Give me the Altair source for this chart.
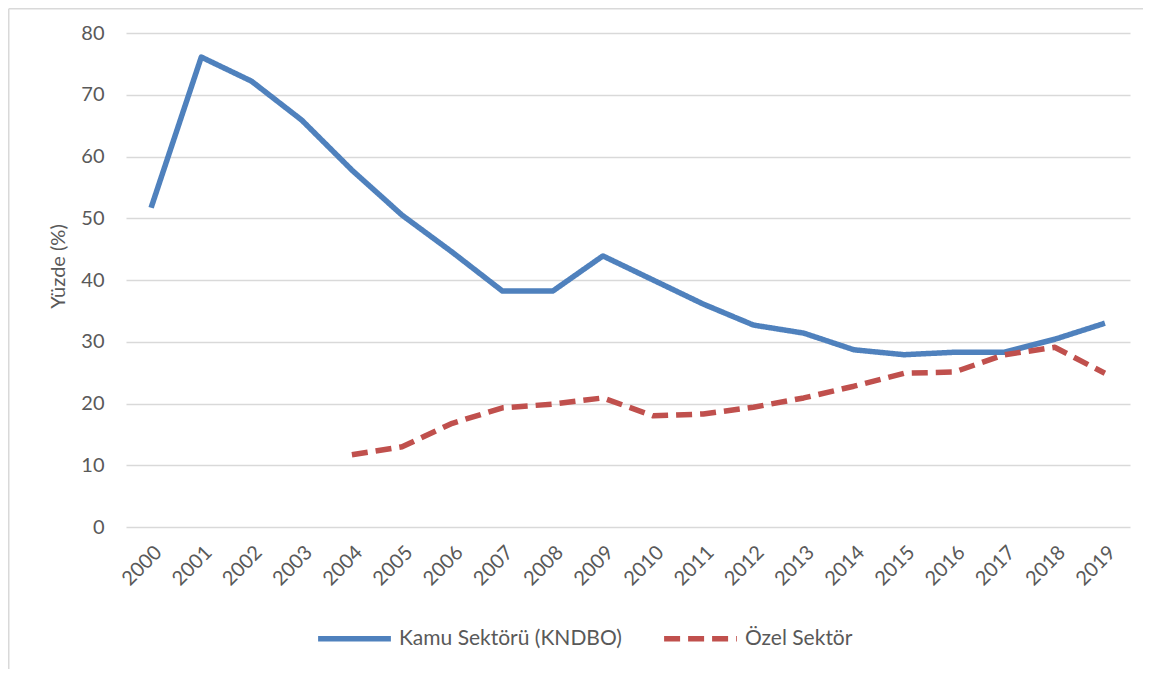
import altair as alt
import pandas as pd

years = [str(y) for y in range(2000, 2020)]
kamu = [51.7, 76.1, 72.2, 65.9, 57.8, 50.5, 44.5, 38.2, 38.2, 43.9,
        40.0, 36.1, 32.7, 31.4, 28.7, 27.9, 28.3, 28.3, 30.4, 33.0]
ozel_years = [str(y) for y in range(2004, 2020)]
ozel = [11.7, 13.0, 16.8, 19.3, 19.9, 20.9, 18.0, 18.3, 19.4, 20.9,
        22.8, 24.9, 25.1, 27.9, 29.1, 24.9]
series = ["Kamu Sektörü (KNDBO)", "Özel Sektör"]
colors = ["#4F81BD", "#C0504D"]

rows = [{"Yıl": y, "Değer": v, "Seri": series[0]} for y, v in zip(years, kamu)]
rows += [{"Yıl": y, "Değer": v, "Seri": series[1]} for y, v in zip(ozel_years, ozel)]
df = pd.DataFrame(rows)

FONT = "Lato"
TXT = "#595959"

lines = alt.Chart(df).mark_line(strokeWidth=5.5, strokeCap="butt", strokeJoin="round").encode(
    x=alt.X("Yıl:O", sort=years, scale=alt.Scale(domain=years, paddingOuter=0.5, paddingInner=0),
            axis=alt.Axis(title=None, labelAngle=-45, labelAlign="right", labelBaseline="top",
                          labelFontSize=20, labelColor=TXT, labelFont=FONT, ticks=False,
                          domain=False, labelPadding=15, grid=False)),
    y=alt.Y("Değer:Q", scale=alt.Scale(domain=[0, 80], nice=False),
            axis=alt.Axis(title="Yüzde (%)", values=list(range(0, 90, 10)), ticks=False,
                          domain=False, labelPadding=22, labelFontSize=20, labelColor=TXT,
                          labelFont=FONT, titleFontSize=20, titleColor=TXT, titleFont=FONT,
                          titleFontWeight="normal", titleX=-68, titleY=233,
                          titleAlign="center", titleBaseline="middle", titleAngle=270,
                          gridColor="#D9D9D9", gridWidth=1.5)),
    color=alt.Color("Seri:N", scale=alt.Scale(domain=series, range=colors),
                    legend=alt.Legend(title=None, orient="none", legendX=189, legendY=566,
                                      direction="horizontal", symbolType="stroke",
                                      symbolStrokeWidth=5.5, symbolSize=5300,
                                      labelFontSize=21, labelColor=TXT, labelFont=FONT,
                                      labelLimit=400, columnPadding=31, labelOffset=5)),
    strokeDash=alt.StrokeDash("Seri:N", scale=alt.Scale(domain=series, range=[[1, 0], [16, 8]]),
                              legend=None),
)

border = pd.DataFrame({"k": [0]})
left_edge = alt.Chart(border).mark_rule(color="#D9D9D9", strokeWidth=1.5).encode(
    x=alt.value(-117.25), y=alt.value(-24.25), y2=alt.value(650)
)
top_edge = alt.Chart(border).mark_rule(color="#D9D9D9", strokeWidth=1.5).encode(
    x=alt.value(-117.25), x2=alt.value(1030), y=alt.value(-24.25)
)

chart = alt.layer(left_edge, top_edge, lines).properties(
    width=1004, height=494,
    autosize=alt.AutoSizeParams(type="none"),
    padding={"left": 118, "top": 25, "right": 13, "bottom": 142},
).configure(background="white").configure_view(strokeWidth=0)

chart.save("out.html", embed_options={"renderer": "svg", "actions": False})
